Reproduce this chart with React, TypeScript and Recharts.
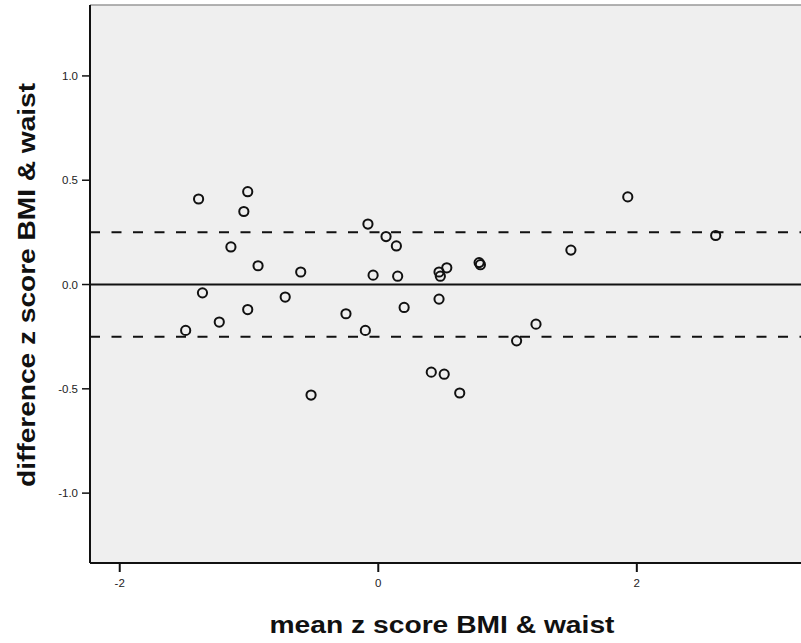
import React from 'react';
import {
  ScatterChart,
  Scatter,
  XAxis,
  YAxis,
  CartesianGrid,
  ReferenceLine,
} from 'recharts';

// Bland-Altman style agreement plot: BMI vs waist z scores
const meanZ = [
  -1.39, -1.01, -1.04, -1.14, -0.93, -0.6, -1.36, -0.72, -1.01, -1.23, -1.49,
  -0.25, -0.1, -0.52, -0.08, 0.06, 0.14, -0.04, 0.15, 0.2, 0.41, 0.51, 0.47,
  0.48, 0.53, 0.47, 0.78, 0.79, 0.63, 1.07, 1.22, 1.49, 1.93, 2.61,
];
const diffZ = [
  0.41, 0.445, 0.35, 0.18, 0.09, 0.06, -0.04, -0.06, -0.12, -0.18, -0.22,
  -0.14, -0.22, -0.53, 0.29, 0.23, 0.185, 0.045, 0.04, -0.11, -0.42, -0.43,
  0.06, 0.04, 0.08, -0.07, 0.105, 0.095, -0.52, -0.27, -0.19, 0.165, 0.42, 0.235,
];

const xTicks = [-2, 0, 2];
const yTicks = [-1.0, -0.5, 0.0, 0.5, 1.0];
const xDomain = [-2.23, 3.27];
const yDomain = [-1.335, 1.34];

// mean difference and limits of agreement
const meanDiff = 0;
const limits = [0.25, -0.25];

const points = meanZ.map((m, i) => ({ mean: m, diff: diffZ[i] }));

const FONT = 'Arial, "Liberation Sans", Helvetica, sans-serif';

const Ring = ({ cx, cy }: any) => (
  <circle cx={cx} cy={cy} r={4.6} fill="none" stroke="#111" strokeWidth={2} />
);

export default function App() {
  return (
    <div style={{ width: 801, height: 643, background: '#fff' }}>
      <style>{'body{margin:0}'}</style>
      <ScatterChart
        width={801}
        height={643}
        margin={{ top: 5, right: 0, left: 0, bottom: 0 }}
      >
        <CartesianGrid fill="#efefef" horizontal={false} vertical={false} />
        <XAxis
          type="number"
          dataKey="mean"
          domain={xDomain}
          ticks={xTicks}
          allowDataOverflow
          height={80}
          axisLine={{ stroke: '#111', strokeWidth: 2 }}
          tickLine={{ stroke: '#111', strokeWidth: 2 }}
          tickSize={9}
          tickMargin={7}
          tick={{ fill: '#222', fontSize: 11.5, fontFamily: FONT }}
        />
        <YAxis
          type="number"
          dataKey="diff"
          domain={yDomain}
          ticks={yTicks}
          allowDataOverflow
          width={90}
          tickFormatter={(v: number) => v.toFixed(1)}
          axisLine={{ stroke: '#111', strokeWidth: 2 }}
          tickLine={{ stroke: '#111', strokeWidth: 1.5 }}
          tickSize={8}
          tickMargin={4}
          tick={{ fill: '#222', fontSize: 11.5, fontFamily: FONT }}
        />
        <ReferenceLine y={yDomain[1]} stroke="#999" strokeWidth={1.5} />
        <ReferenceLine y={meanDiff} stroke="#111" strokeWidth={2} />
        {limits.map((l) => (
          <ReferenceLine
            key={l}
            y={l}
            stroke="#111"
            strokeWidth={2}
            strokeDasharray="10 11.5"
          />
        ))}
        <Scatter data={points} shape={Ring} isAnimationActive={false} />
        <text
          x={442}
          y={633}
          textAnchor="middle"
          fontFamily={FONT}
          fontWeight="bold"
          fontSize={23}
          fill="#111"
          textLength={345}
          lengthAdjust="spacingAndGlyphs"
        >
          mean z score BMI &amp; waist
        </text>
        <text
          x={0}
          y={0}
          transform="translate(35 285) rotate(-90)"
          textAnchor="middle"
          fontFamily={FONT}
          fontWeight="bold"
          fontSize={23}
          fill="#111"
          textLength={404}
          lengthAdjust="spacingAndGlyphs"
        >
          difference z score BMI &amp; waist
        </text>
      </ScatterChart>
    </div>
  );
}
